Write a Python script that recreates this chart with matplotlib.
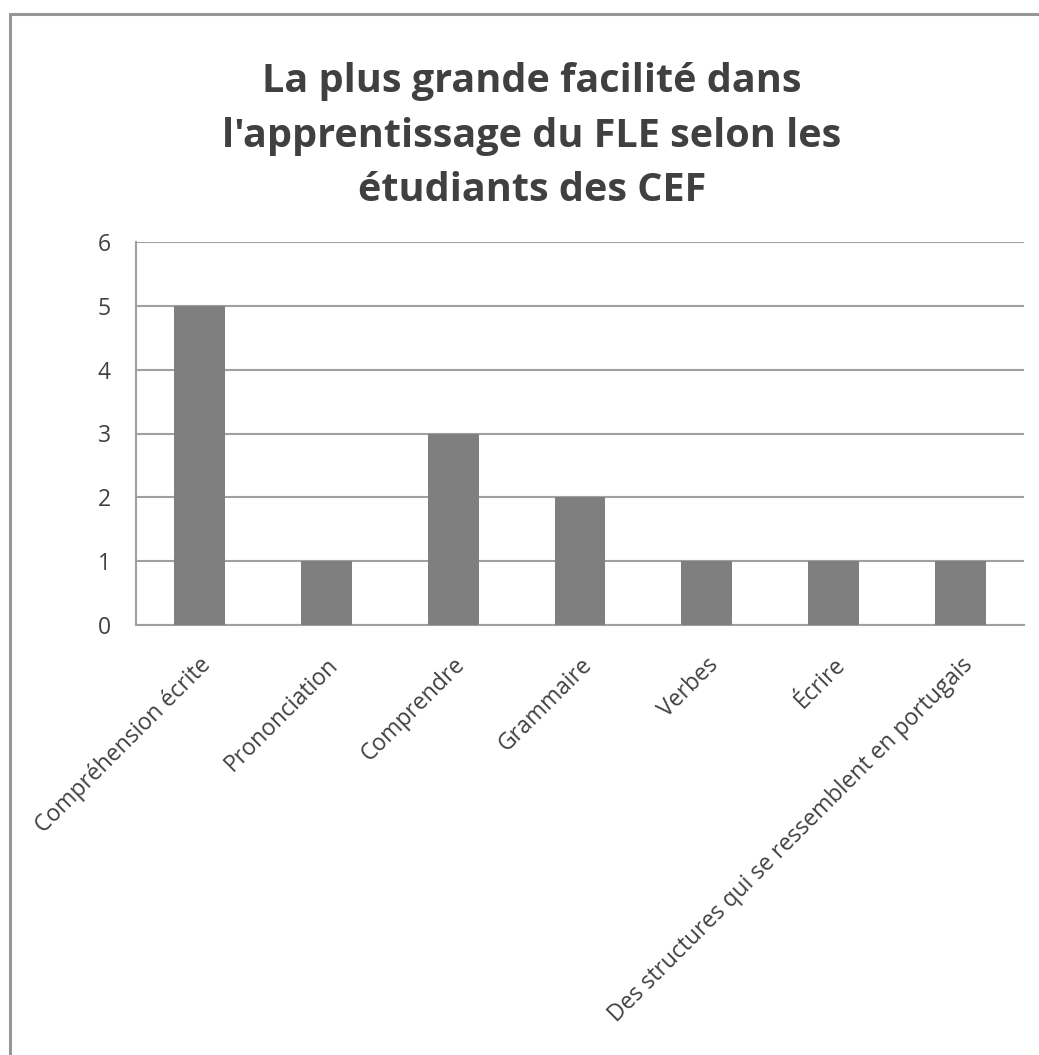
import matplotlib.pyplot as plt
from matplotlib.patches import Rectangle

categories = ["Compréhension écrite", "Prononciation", "Comprendre", "Grammaire",
              "Verbes", "Écrire", "Des structures qui se ressemblent en portugais"]
values = [5, 1, 3, 2, 1, 1, 1]
title = "La plus grande facilité dans\nl'apprentissage du FLE selon les\nétudiants des CEF"

plt.rcParams['font.family'] = ['Open Sans', 'DejaVu Sans']

W, H = 1039, 1055
fig = plt.figure(figsize=(W / 100, H / 100), dpi=100)

# outer chart border (cut off at right and bottom)
fig.patches.append(Rectangle((9.5 / W, -0.1), 1.2, 1 - 14 / H + 0.1, transform=fig.transFigure,
                             fill=False, edgecolor="#969696", linewidth=2.2))

ax = fig.add_axes([136 / W, 1 - 625 / H, (1024 - 136) / W, (625 - 242) / H])
x = range(len(categories))
ax.bar(x, values, width=0.4, color="#7f7f7f", zorder=3)
ax.set_xlim(-0.5, len(categories) - 0.5)
ax.set_ylim(0, 6)
ax.set_yticks(range(0, 7))
ax.yaxis.grid(True, color="#a0a0a0", linewidth=1.5)
ax.set_axisbelow(True)
for s in ["top", "right"]:
    ax.spines[s].set_visible(False)
for s in ["left", "bottom"]:
    ax.spines[s].set_color("#a0a0a0")
    ax.spines[s].set_linewidth(1.5)
ax.tick_params(axis="both", length=0, labelsize=16.5, labelcolor="#404040")
ax.tick_params(axis="y", pad=18)
ax.set_xticks(list(x))
ax.set_xticklabels(categories, rotation=45, ha="right", rotation_mode="anchor")
ax.tick_params(axis="x", pad=20)

fig.text(532 / W, 1 - 136 / H, title, ha="center", va="center", fontsize=28.5,
         fontweight="bold", color="#404040", linespacing=1.52)

fig.savefig("out.png", dpi=100, facecolor="white")
